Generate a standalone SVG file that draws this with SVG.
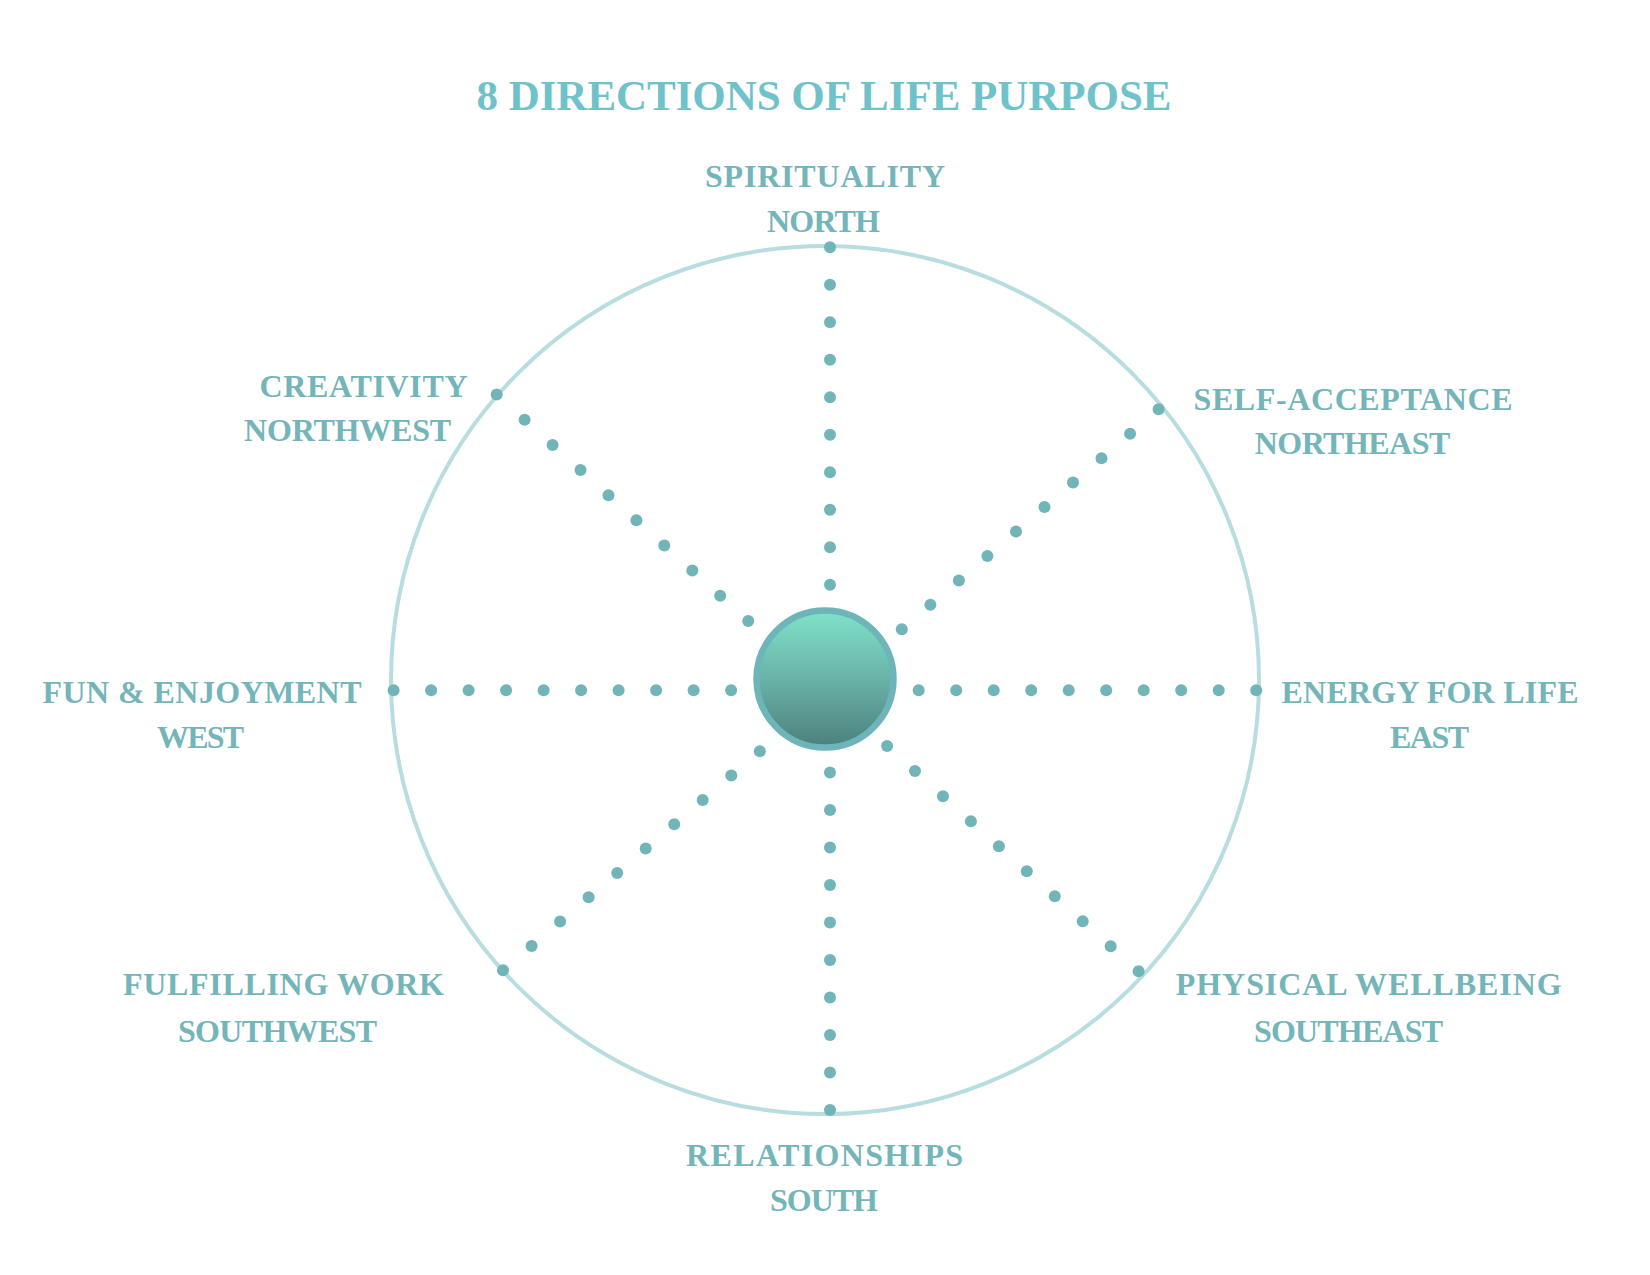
<svg xmlns="http://www.w3.org/2000/svg" width="1650" height="1275" viewBox="0 0 1650 1275">
  <defs>
    <linearGradient id="ballGrad" x1="0" y1="0" x2="0" y2="1">
      <stop offset="0" stop-color="#80e2c9"/>
      <stop offset="0.5" stop-color="#69b3a8"/>
      <stop offset="1" stop-color="#4b807c"/>
    </linearGradient>
  </defs>
  <style>
    .title { font-family: "Liberation Serif", "Times New Roman", serif; font-weight: bold; font-size: 43px; fill: #70c2ca; }
    .lbl { font-family: "Liberation Serif", "Times New Roman", serif; font-weight: bold; font-size: 32px; fill: #73b5b9; }
    .dot { fill: #72b5b9; }
    .ring { fill: none; stroke: #b8dde0; stroke-width: 4; }
  </style>
  <rect width="1650" height="1275" fill="#ffffff"/>

  <g id="title">
    <text class="title" x="824" y="109.5" text-anchor="middle" textLength="695" lengthAdjust="spacing">8 DIRECTIONS OF LIFE PURPOSE</text>
  </g>

  <circle id="ring" class="ring" cx="825" cy="680" r="434"/>

  <g id="connectors">
    <g id="spoke-north">
      <circle class="dot" cx="830" cy="247.3" r="6"/><circle class="dot" cx="830" cy="284.8" r="6"/>
      <circle class="dot" cx="830" cy="322.3" r="6"/><circle class="dot" cx="830" cy="359.8" r="6"/>
      <circle class="dot" cx="830" cy="397.3" r="6"/><circle class="dot" cx="830" cy="434.8" r="6"/>
      <circle class="dot" cx="830" cy="472.3" r="6"/><circle class="dot" cx="830" cy="509.8" r="6"/>
      <circle class="dot" cx="830" cy="547.3" r="6"/><circle class="dot" cx="830" cy="584.8" r="6"/>
    </g>
    <g id="spoke-south">
      <circle class="dot" cx="830" cy="772.5" r="6"/><circle class="dot" cx="830" cy="810" r="6"/>
      <circle class="dot" cx="830" cy="847.5" r="6"/><circle class="dot" cx="830" cy="885" r="6"/>
      <circle class="dot" cx="830" cy="922.5" r="6"/><circle class="dot" cx="830" cy="960" r="6"/>
      <circle class="dot" cx="830" cy="997.5" r="6"/><circle class="dot" cx="830" cy="1035" r="6"/>
      <circle class="dot" cx="830" cy="1072.5" r="6"/><circle class="dot" cx="830" cy="1110" r="6"/>
    </g>
    <g id="spoke-west">
      <circle class="dot" cx="393.6" cy="690.3" r="6"/><circle class="dot" cx="431.1" cy="690.3" r="6"/>
      <circle class="dot" cx="468.6" cy="690.3" r="6"/><circle class="dot" cx="506.1" cy="690.3" r="6"/>
      <circle class="dot" cx="543.6" cy="690.3" r="6"/><circle class="dot" cx="581.1" cy="690.3" r="6"/>
      <circle class="dot" cx="618.6" cy="690.3" r="6"/><circle class="dot" cx="656.1" cy="690.3" r="6"/>
      <circle class="dot" cx="693.6" cy="690.3" r="6"/><circle class="dot" cx="731.1" cy="690.3" r="6"/>
    </g>
    <g id="spoke-east">
      <circle class="dot" cx="918.7" cy="690.3" r="6"/><circle class="dot" cx="956.2" cy="690.3" r="6"/>
      <circle class="dot" cx="993.7" cy="690.3" r="6"/><circle class="dot" cx="1031.2" cy="690.3" r="6"/>
      <circle class="dot" cx="1068.7" cy="690.3" r="6"/><circle class="dot" cx="1106.2" cy="690.3" r="6"/>
      <circle class="dot" cx="1143.7" cy="690.3" r="6"/><circle class="dot" cx="1181.2" cy="690.3" r="6"/>
      <circle class="dot" cx="1218.7" cy="690.3" r="6"/><circle class="dot" cx="1256.2" cy="690.3" r="6"/>
    </g>
    <g id="spoke-northwest">
      <circle class="dot" cx="496.7" cy="394.6" r="6"/><circle class="dot" cx="524.6" cy="419.7" r="6"/>
      <circle class="dot" cx="552.6" cy="444.9" r="6"/><circle class="dot" cx="580.5" cy="470.0" r="6"/>
      <circle class="dot" cx="608.5" cy="495.2" r="6"/><circle class="dot" cx="636.4" cy="520.3" r="6"/>
      <circle class="dot" cx="664.3" cy="545.4" r="6"/><circle class="dot" cx="692.3" cy="570.6" r="6"/>
      <circle class="dot" cx="720.2" cy="595.7" r="6"/><circle class="dot" cx="748.2" cy="620.9" r="6"/>
    </g>
    <g id="spoke-northeast">
      <circle class="dot" cx="1158.6" cy="409.3" r="6"/><circle class="dot" cx="1130.1" cy="433.7" r="6"/>
      <circle class="dot" cx="1101.5" cy="458.2" r="6"/><circle class="dot" cx="1073.0" cy="482.6" r="6"/>
      <circle class="dot" cx="1044.5" cy="507.1" r="6"/><circle class="dot" cx="1016.0" cy="531.5" r="6"/>
      <circle class="dot" cx="987.4" cy="555.9" r="6"/><circle class="dot" cx="958.9" cy="580.4" r="6"/>
      <circle class="dot" cx="930.4" cy="604.8" r="6"/><circle class="dot" cx="901.8" cy="629.3" r="6"/>
    </g>
    <g id="spoke-southeast">
      <circle class="dot" cx="887.1" cy="746.1" r="6"/><circle class="dot" cx="915.0" cy="771.1" r="6"/>
      <circle class="dot" cx="943.0" cy="796.2" r="6"/><circle class="dot" cx="970.9" cy="821.2" r="6"/>
      <circle class="dot" cx="998.9" cy="846.2" r="6"/><circle class="dot" cx="1026.8" cy="871.2" r="6"/>
      <circle class="dot" cx="1054.8" cy="896.2" r="6"/><circle class="dot" cx="1082.7" cy="921.3" r="6"/>
      <circle class="dot" cx="1110.7" cy="946.3" r="6"/><circle class="dot" cx="1138.6" cy="971.3" r="6"/>
    </g>
    <g id="spoke-southwest">
      <circle class="dot" cx="759.8" cy="751.3" r="6"/><circle class="dot" cx="731.3" cy="775.6" r="6"/>
      <circle class="dot" cx="702.7" cy="799.9" r="6"/><circle class="dot" cx="674.2" cy="824.3" r="6"/>
      <circle class="dot" cx="645.7" cy="848.6" r="6"/><circle class="dot" cx="617.2" cy="872.9" r="6"/>
      <circle class="dot" cx="588.6" cy="897.2" r="6"/><circle class="dot" cx="560.1" cy="921.5" r="6"/>
      <circle class="dot" cx="531.6" cy="945.9" r="6"/><circle class="dot" cx="503.0" cy="970.2" r="6"/>
    </g>
  </g>

  <g id="center">
    <circle cx="825" cy="679" r="68.5" fill="url(#ballGrad)" stroke="#6db5b9" stroke-width="6.5"/>
  </g>

  <g id="node-north">
    <text class="lbl" x="825" y="187" text-anchor="middle" textLength="240" lengthAdjust="spacing">SPIRITUALITY</text>
    <text class="lbl" x="823.5" y="232" text-anchor="middle" textLength="113" lengthAdjust="spacing">NORTH</text>
  </g>
  <g id="node-northwest">
    <text class="lbl" x="363.5" y="396.5" text-anchor="middle" textLength="208" lengthAdjust="spacing">CREATIVITY</text>
    <text class="lbl" x="347.6" y="440.5" text-anchor="middle" textLength="207" lengthAdjust="spacing">NORTHWEST</text>
  </g>
  <g id="node-northeast">
    <text class="lbl" x="1353" y="409.5" text-anchor="middle" textLength="319" lengthAdjust="spacing">SELF-ACCEPTANCE</text>
    <text class="lbl" x="1352.5" y="453.5" text-anchor="middle" textLength="195.5" lengthAdjust="spacing">NORTHEAST</text>
  </g>
  <g id="node-west">
    <text class="lbl" x="202" y="703" text-anchor="middle" textLength="319" lengthAdjust="spacing">FUN &amp; ENJOYMENT</text>
    <text class="lbl" x="200.5" y="747.5" text-anchor="middle" textLength="87" lengthAdjust="spacing">WEST</text>
  </g>
  <g id="node-east">
    <text class="lbl" x="1430" y="703" text-anchor="middle" textLength="297" lengthAdjust="spacing">ENERGY FOR LIFE</text>
    <text class="lbl" x="1429.5" y="748" text-anchor="middle" textLength="79" lengthAdjust="spacing">EAST</text>
  </g>
  <g id="node-southwest">
    <text class="lbl" x="283.5" y="994.5" text-anchor="middle" textLength="321" lengthAdjust="spacing">FULFILLING WORK</text>
    <text class="lbl" x="277.5" y="1041.5" text-anchor="middle" textLength="199" lengthAdjust="spacing">SOUTHWEST</text>
  </g>
  <g id="node-southeast">
    <text class="lbl" x="1368.7" y="994.5" text-anchor="middle" textLength="385.7" lengthAdjust="spacing">PHYSICAL WELLBEING</text>
    <text class="lbl" x="1348.5" y="1041.5" text-anchor="middle" textLength="189" lengthAdjust="spacing">SOUTHEAST</text>
  </g>
  <g id="node-south">
    <text class="lbl" x="824.6" y="1166" text-anchor="middle" textLength="277" lengthAdjust="spacing">RELATIONSHIPS</text>
    <text class="lbl" x="824" y="1211" text-anchor="middle" textLength="108" lengthAdjust="spacing">SOUTH</text>
  </g>
</svg>
